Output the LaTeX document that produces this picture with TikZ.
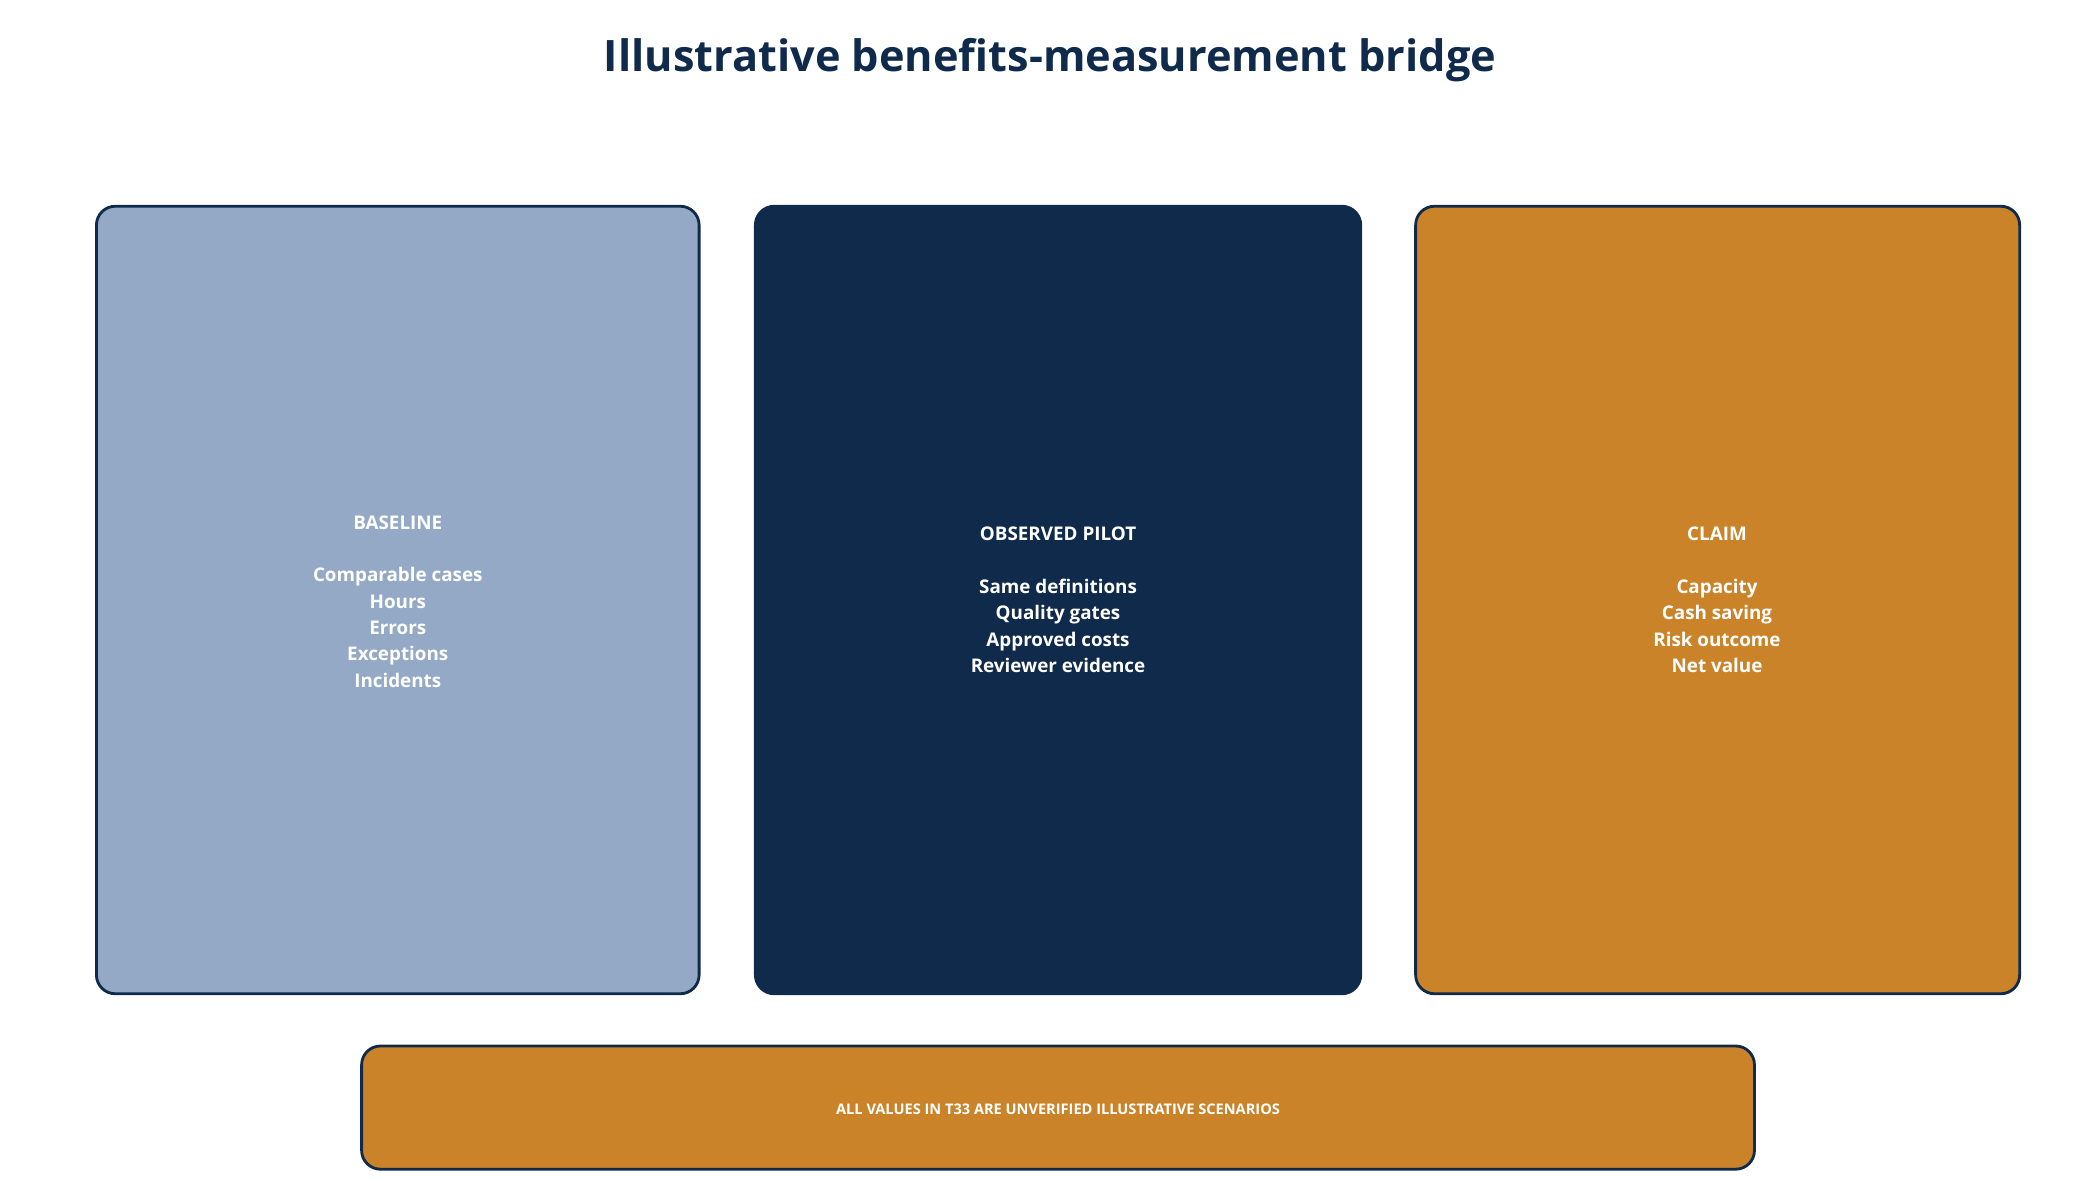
\documentclass[tikz,border=0pt]{standalone}
\usepackage{fontspec}
\setmainfont{Open Sans}
\definecolor{navy}{HTML}{0F2A4A}
\definecolor{lblue}{HTML}{94A9C6}
\definecolor{orng}{HTML}{CB8329}
\begin{document}
\begin{tikzpicture}[x=0.05cm,y=-0.05cm,
  box/.style={draw=navy,line width=3pt,rounded corners=20pt},
  txt/.style={text=white,font=\bfseries\fontsize{20}{28}\selectfont,align=center}]
\useasboundingbox (0,0) rectangle (1568,881);
\node (title) at (784,45) {\bfseries\fontsize{46}{50}\selectfont\color{navy}Illustrative benefits-measurement bridge};
\draw[box,fill=lblue] (72,154) rectangle (522,742);
\draw[box,fill=navy] (564,154) rectangle (1016,742);
\draw[box,fill=orng] (1057,154) rectangle (1508,742);
\draw[box,fill=orng] (270,781) rectangle (1310,873);
\node[txt] (b) at (297,449) {BASELINE\\[28pt]Comparable cases\\Hours\\Errors\\Exceptions\\Incidents};
\node[txt] (p) at (790,448) {OBSERVED PILOT\\[28pt]Same definitions\\Quality gates\\Approved costs\\Reviewer evidence};
\node[txt] (c) at (1282,448) {CLAIM\\[28pt]Capacity\\Cash saving\\Risk outcome\\Net value};
\node[text=white,font=\bfseries\fontsize{15.5}{18}\selectfont] (f) at (790,828) {ALL VALUES IN T33 ARE UNVERIFIED ILLUSTRATIVE SCENARIOS};
\end{tikzpicture}
\end{document}
